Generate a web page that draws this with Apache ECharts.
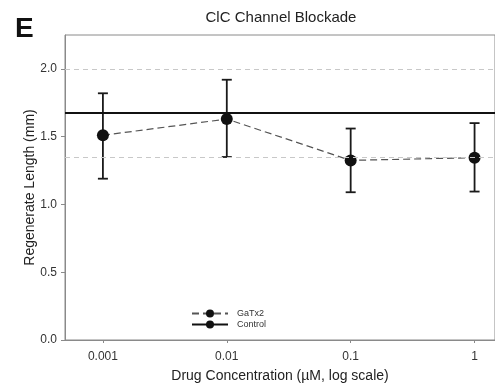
<!DOCTYPE html>
<html><head><meta charset="utf-8">
<script src="https://cdn.jsdelivr.net/npm/echarts@6/dist/echarts.min.js"></script>
<style>html,body{margin:0;padding:0;background:#fff}#c{width:495px;height:390px}</style>
</head><body><div id="c"></div>
<script>
const concentrations = [0.001, 0.01, 0.1, 1];
const tickLabels = ['0.001', '0.01', '0.1', '1'];
const gatx2Mean = [1.51, 1.63, 1.325, 1.345];
const gatx2Upper = [1.82, 1.92, 1.56, 1.60];
const gatx2Lower = [1.19, 1.35, 1.09, 1.095];
const controlMean = 1.675;
const controlUpper = 2.0;
const controlLower = 1.35;
const yTicks = [0, 0.5, 1.0, 1.5, 2.0];

const FONT = 'Liberation Sans, Arial, sans-serif';
const logX = concentrations.map(c => Math.log10(c));
const tickPos = logX.slice();
const labelMap = {};
tickPos.forEach((p, i) => labelMap[p.toFixed(3)] = tickLabels[i]);

const chart = echarts.init(document.getElementById('c'), null, {renderer: 'canvas'});
chart.setOption({
  animation: false,
  textStyle: {fontFamily: FONT},
  title: {text: 'ClC Channel Blockade', left: 276, textAlign: 'center', top: 5,
    textStyle: {fontFamily: FONT, fontSize: 15, fontWeight: 'normal', color: '#222'}},
  graphic: [{type: 'text', left: 15, top: 15, style: {text: 'E', font: 'bold 28px ' + FONT, fill: '#111'}}],
  grid: {left: 65, top: 35, right: -2, bottom: 50, show: true, borderColor: '#8a8a8a', borderWidth: 1},
  legend: {
    orient: 'vertical', left: 186, top: 304, itemWidth: 36, itemHeight: 10, itemGap: 2,
    data: ['GaTx2', 'Control'],
    textStyle: {fontFamily: FONT, fontSize: 9, color: '#333', padding: [0, 0, 0, 4]}
  },
  xAxis: {
    type: 'value', min: -3.306, max: 0.165,
    name: 'Drug Concentration (\u00b5M, log scale)', nameLocation: 'middle', nameGap: 29,
    nameMoveOverlap: false,
    nameTextStyle: {fontFamily: FONT, fontSize: 14, color: '#222'},
    axisLine: {onZero: false, lineStyle: {color: '#8a8a8a', width: 1}},
    axisTick: {show: true, customValues: tickPos, length: 3, inside: false, lineStyle: {color: '#8a8a8a'}},
    axisLabel: {customValues: tickPos, margin: 11, fontSize: 12, color: '#333', fontFamily: FONT,
      formatter: v => labelMap[Number(v).toFixed(3)] || ''},
    splitLine: {show: false}
  },
  yAxis: {
    type: 'value', min: 0, max: 2.25,
    name: 'Regenerate Length (mm)', nameLocation: 'middle', nameGap: 28,
    nameMoveOverlap: false,
    nameTextStyle: {fontFamily: FONT, fontSize: 14, color: '#222'},
    axisLine: {show: true, onZero: false, lineStyle: {color: '#8a8a8a', width: 1}},
    axisTick: {show: true, customValues: yTicks, length: 4, lineStyle: {color: '#8a8a8a'}},
    axisLabel: {customValues: yTicks, margin: 8, fontSize: 12, color: '#333', fontFamily: FONT,
      formatter: v => Number(v).toFixed(1)},
    splitLine: {show: false}
  },
  series: [
    {
      name: 'ControlSD', type: 'line', data: [], silent: true,
      markLine: {symbol: 'none', silent: true, label: {show: false},
        lineStyle: {color: '#c8c8c8', type: [5, 4], width: 1},
        data: [{yAxis: controlUpper}, {yAxis: controlLower}]}
    },
    {
      name: 'Control', type: 'line', data: [], symbol: 'none',
      lineStyle: {color: '#111', width: 2.2},
      itemStyle: {color: '#111'},
      markLine: {symbol: 'none', silent: true, label: {show: false},
        lineStyle: {color: '#111', type: 'solid', width: 2.2},
        data: [{yAxis: controlMean}]}
    },
    {
      name: 'err', type: 'custom', z: 3,
      data: logX.map((x, i) => [x, gatx2Lower[i], gatx2Upper[i]]),
      renderItem: (params, api) => {
        const lo = api.coord([api.value(0), api.value(1)]);
        const hi = api.coord([api.value(0), api.value(2)]);
        const w = 5;
        const st = {stroke: '#1a1a1a', lineWidth: 1.8};
        return {type: 'group', children: [
          {type: 'line', shape: {x1: lo[0], y1: lo[1], x2: hi[0], y2: hi[1]}, style: st},
          {type: 'line', shape: {x1: lo[0] - w, y1: lo[1], x2: lo[0] + w, y2: lo[1]}, style: st},
          {type: 'line', shape: {x1: hi[0] - w, y1: hi[1], x2: hi[0] + w, y2: hi[1]}, style: st}
        ]};
      }
    },
    {
      name: 'GaTx2', type: 'line', z: 4,
      data: logX.map((x, i) => [x, gatx2Mean[i]]),
      symbol: 'circle', symbolSize: 12, showAllSymbol: true,
      itemStyle: {color: '#111', borderWidth: 0},
      lineStyle: {color: '#555', width: 1.2, type: [7, 4]}
    }
  ]
});
</script></body></html>
